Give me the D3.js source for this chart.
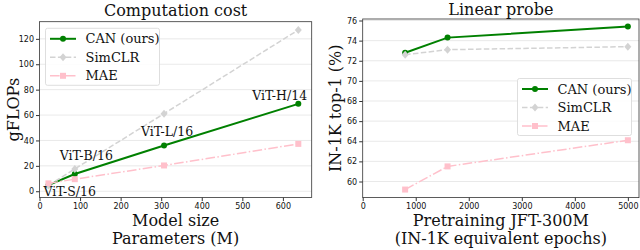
<!DOCTYPE html>
<html>
<head>
<meta charset="utf-8">
<script src="https://cdn.jsdelivr.net/npm/d3@7"></script>
<style>
	body { margin: 0; background: #fff; }
	svg { display: block; }
	.tick text { font-family: "DejaVu Sans", sans-serif; font-size: 8px; fill: #111; }
	.serif { font-family: "DejaVu Serif", serif; fill: #111; }
</style>
</head>
<body>
<div id="chart"></div>
<script>
// data
var seriesNames = ["CAN (ours)", "SimCLR", "MAE"];

var modelNames = ["ViT-S/16", "ViT-B/16", "ViT-L/16", "ViT-H/14"];
var modelParams = [22, 87, 307, 638];
var flopsCAN = [4.8, 13.6, 36.0, 68.8];
var flopsSimCLR = [4.6, 17.6, 61.1, 127];
var flopsMAE = [6.2, 9.5, 20.3, 37.3];

var epochs = [800, 1600, 5000];
var top1CAN = [72.8, 74.3, 75.4];
var top1SimCLR = [72.6, 73.1, 73.4];
var top1MAE = [59.2, 61.5, 64.1];

var flopsTicks = [0, 20, 40, 60, 80, 100, 120];
var paramTicks = [0, 100, 200, 300, 400, 500, 600];
var top1Ticks = [60, 62, 64, 66, 68, 70, 72, 74, 76];
var epochTicks = [0, 1000, 2000, 3000, 4000, 5000];

// styles
var styles = [
	{color: "green", dash: null, marker: "circle", width: 2},
	{color: "lightgrey", dash: "5.5,2.4", marker: "diamond", width: 1.5},
	{color: "pink", dash: "9.6,2.4,1.5,2.4", marker: "square", width: 1.5}
];

// label offsets (px) relative to CAN points
var labelOffsets = [[-5, 11], [-15, -14], [-23, -10], [-46, -4]];

var svg = d3.select('#chart').append('svg')
	.attr('width', 640)
	.attr('height', 250);

function drawMarker(g, type, x, y, color) {
	if (type === "circle") {
		g.append('circle').attr('cx', x).attr('cy', y).attr('r', 3).attr('fill', color);
	} else if (type === "diamond") {
		g.append('path')
			.attr('d', 'M' + x + ',' + (y - 4) + 'L' + (x + 3.5) + ',' + y + 'L' + x + ',' + (y + 4) + 'L' + (x - 3.5) + ',' + y + 'Z')
			.attr('fill', color);
	} else {
		g.append('rect').attr('x', x - 3).attr('y', y - 3).attr('width', 6).attr('height', 6).attr('fill', color);
	}
}

function panel(opts) {
	var x = d3.scaleLinear().domain(opts.xDomain).range([opts.left, opts.right]);
	var y = d3.scaleLinear().domain(opts.yDomain).range([opts.bottom, opts.top]);
	var g = svg.append('g');

	// grid
	g.append('g').selectAll('line').data(opts.yTicks).enter().append('line')
		.attr('x1', opts.left).attr('x2', opts.right)
		.attr('y1', function(d) { return y(d); })
		.attr('y2', function(d) { return y(d); })
		.attr('stroke', '#e3e3e3')
		.attr('stroke-width', 0.8);

	// lines
	opts.series.forEach(function(vals, i) {
		var st = styles[i];
		var pts = opts.xs.map(function(v, j) { return [x(v), y(vals[j])]; });
		g.append('path')
			.attr('d', d3.line()(pts))
			.attr('fill', 'none')
			.attr('stroke', st.color)
			.attr('stroke-width', st.width)
			.attr('stroke-dasharray', st.dash);
		pts.forEach(function(p) { drawMarker(g, st.marker, p[0], p[1], st.color); });
	});

	// frame
	g.append('rect')
		.attr('x', opts.left).attr('y', opts.top)
		.attr('width', opts.right - opts.left).attr('height', opts.bottom - opts.top)
		.attr('fill', 'none').attr('stroke', '#333').attr('stroke-width', 0.8);

	g.append('g')
		.attr('transform', 'translate(' + opts.left + ',0)')
		.call(d3.axisLeft(y).tickValues(opts.yTicks).tickFormat(d3.format('d')).tickSize(3.5).tickPadding(2))
		.call(function(a) { a.select('.domain').remove(); a.selectAll('line').attr('stroke', '#333'); });

	g.append('g')
		.attr('transform', 'translate(0,' + opts.bottom + ')')
		.call(d3.axisBottom(x).tickValues(opts.xTicks).tickFormat(d3.format('d')).tickSize(3.5).tickPadding(2))
		.call(function(a) { a.select('.domain').remove(); a.selectAll('line').attr('stroke', '#333'); });

	var cx = (opts.left + opts.right) / 2;
	g.append('text').attr('class', 'serif')
		.attr('x', cx).attr('y', opts.titleY)
		.attr('text-anchor', 'middle').style('font-size', '16px')
		.text(opts.title);

	opts.xLabel.forEach(function(t, i) {
		g.append('text').attr('class', 'serif')
			.attr('x', cx).attr('y', 226 + i * 18)
			.attr('text-anchor', 'middle').style('font-size', '16px')
			.text(t);
	});

	g.append('text').attr('class', 'serif')
		.attr('transform', 'translate(' + opts.yLabelX + ',' + ((opts.top + opts.bottom) / 2) + ') rotate(-90)')
		.attr('text-anchor', 'middle').style('font-size', '16px')
		.text(opts.yLabel);

	// legend
	var lg = g.append('g').attr('transform', 'translate(' + opts.legend[0] + ',' + opts.legend[1] + ')');
	lg.append('rect')
		.attr('x', 0).attr('y', 0).attr('width', 114).attr('height', 57)
		.attr('rx', 2).attr('fill', 'rgba(255,255,255,0.85)')
		.attr('stroke', '#d6d6d6').attr('stroke-width', 0.8);
	seriesNames.forEach(function(name, i) {
		var st = styles[i];
		var ly = 10.5 + i * 18.5;
		lg.append('line')
			.attr('x1', 4.5).attr('x2', 30.5).attr('y1', ly).attr('y2', ly)
			.attr('stroke', st.color).attr('stroke-width', st.width)
			.attr('stroke-dasharray', st.dash);
		drawMarker(lg, st.marker, 17.5, ly, st.color);
		lg.append('text').attr('class', 'serif')
			.attr('x', 40).attr('y', ly + 4.5)
			.style('font-size', '13px')
			.text(name);
	});

	return {x: x, y: y, g: g};
}

var left = panel({
	left: 39.5, right: 311.7, top: 21.7, bottom: 197.6,
	xDomain: [0, 671], yDomain: [-5, 133.5],
	xs: modelParams, series: [flopsCAN, flopsSimCLR, flopsMAE],
	xTicks: paramTicks, yTicks: flopsTicks,
	title: "Computation cost", titleY: 16,
	xLabel: ["Model size", "Parameters (M)"],
	yLabel: "gFLOPs", yLabelX: 19,
	legend: [45.5, 28.3]
});

modelNames.forEach(function(n, i) {
	left.g.append('text').attr('class', 'serif')
		.attr('x', left.x(modelParams[i]) + labelOffsets[i][0])
		.attr('y', left.y(flopsCAN[i]) + labelOffsets[i][1])
		.style('font-size', '12.5px')
		.text(n);
});

panel({
	left: 362.7, right: 639, top: 19, bottom: 197.6,
	xDomain: [0, 5210], yDomain: [58.4, 76.15],
	xs: epochs, series: [top1CAN, top1SimCLR, top1MAE],
	xTicks: epochTicks, yTicks: top1Ticks,
	title: "Linear probe", titleY: 15,
	xLabel: ["Pretraining JFT-300M", "(IN-1K equivalent epochs)"],
	yLabel: "IN-1K top-1 (%)", yLabelX: 341,
	legend: [517.5, 78.5]
});
</script>
</body>
</html>
